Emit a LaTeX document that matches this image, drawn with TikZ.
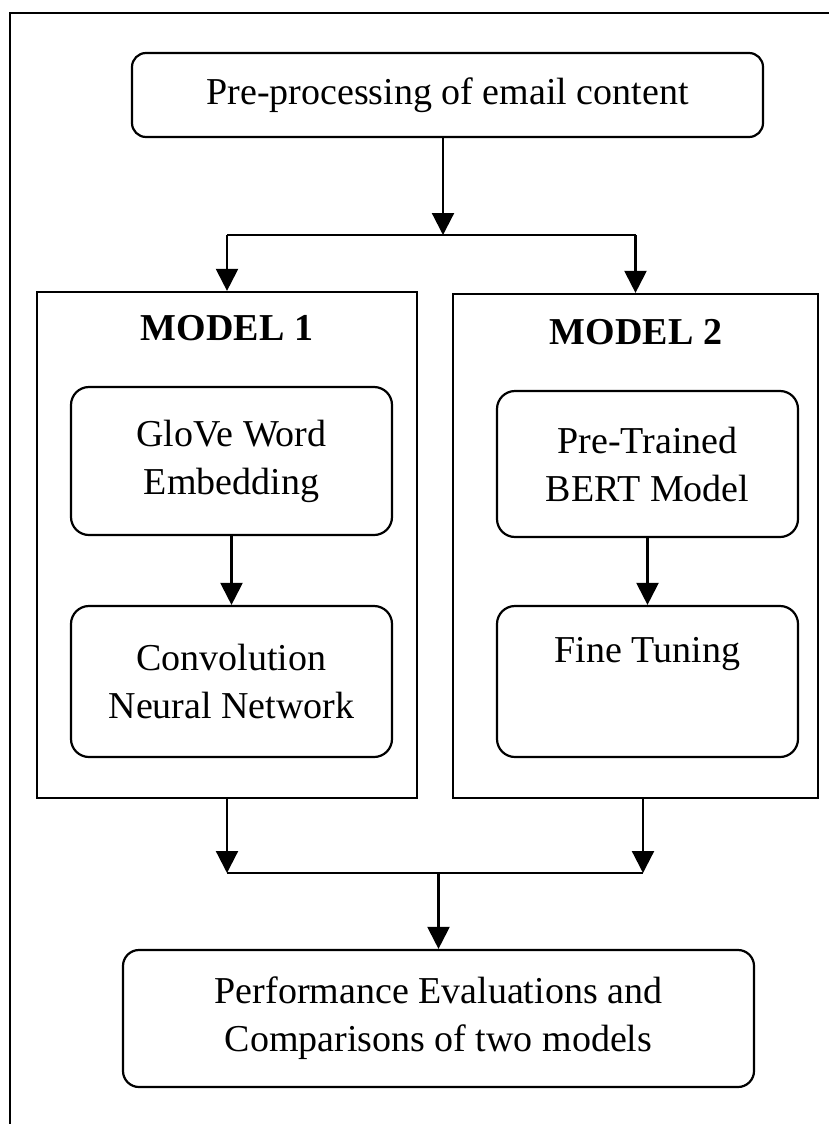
\documentclass[tikz,border=0pt]{standalone}
\usepackage{fontspec}
\setmainfont{Liberation Serif}
\usetikzlibrary{arrows.meta}

\begin{document}
\begin{tikzpicture}[x=0.5pt, y=-0.5pt, line width=1.1pt,
    every node/.style={font=\fontsize{19}{24}\selectfont},
    stage/.style={draw, rounded corners=9pt, align=center, inner sep=0pt},
    modelbox/.style={draw, inner sep=0pt},
    modeltitle/.style={font=\fontsize{19}{24}\selectfont\bfseries, anchor=base, inner sep=0pt},
    arrow/.style={-{Triangle[width=11pt,length=11pt]}}]
      % Frame
      \clip (0,0) rectangle (829,1124);
      \draw (10,13) rectangle (850,1150);

      % Pre-processing
      \node[stage, rounded corners=7pt, minimum width=315.5pt, minimum height=42pt] (pre) at (447.5,95) {Pre-processing of email content};

      % Model 1
      \node[modelbox, minimum width=190pt, minimum height=253pt] (m1) at (227,545) {};
      \node[modeltitle] (t1) at (227,340) {MODEL 1};
      \node[stage, minimum width=160.5pt, minimum height=74pt] (glove) at (231.5,461) {GloVe Word\\Embedding};
      \node[stage, minimum width=160.5pt, minimum height=75.5pt] (cnn) at (231.5,681.5) {Convolution\\Neural Network};
      \draw[arrow] (glove.south) -- (cnn.north);

      % Model 2
      \node[modelbox, minimum width=182.5pt, minimum height=252pt] (m2) at (635.5,546) {};
      \node[modeltitle] (t2) at (636,344) {MODEL 2};
      \node[stage, minimum width=150.5pt, minimum height=73pt] (bert) at (647.5,464) {Pre-Trained\\BERT Model};
      \node[stage, minimum width=150.5pt, minimum height=75.5pt] (fine) at (647.5,681.5) {Fine Tuning\\\strut};
      \draw[arrow] (bert.south) -- (fine.north);

      % Evaluation
      \node[stage, rounded corners=8pt, minimum width=315.5pt, minimum height=68.5pt] (eval) at (438.5,1018.5) {Performance Evaluations and\\Comparisons of two models};

      % Split
      \coordinate (fork) at (443,235);
      \coordinate (forkL) at (m1.north |- fork);
      \coordinate (forkR) at (m2.north |- fork);
      \draw[arrow] (pre.south -| fork) -- (fork);
      \draw (forkL) -- (forkR);
      \draw[arrow] (forkL) -- (m1.north);
      \draw[arrow] (forkR) -- (m2.north);

      % Join
      \coordinate (joinL) at (227,873);
      \coordinate (joinR) at (643,873);
      \coordinate (join) at (eval.north |- joinL);
      \draw[arrow] (m1.south) -- (joinL);
      \draw[arrow] (m2.south -| joinR) -- (joinR);
      \draw (joinL) -- (joinR);
      \draw[arrow] (join) -- (eval.north);
\end{tikzpicture}
\end{document}
